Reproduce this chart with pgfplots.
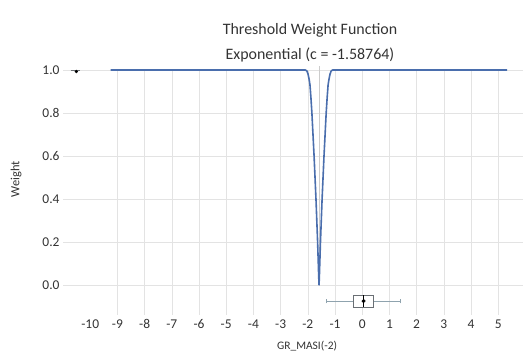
\documentclass[border=0pt]{standalone}
\usepackage{pgfplots}
\pgfplotsset{compat=1.18}
\usepgfplotslibrary{statistics}
\usepackage{fontspec}
\setmainfont{Carlito}
\definecolor{curve}{HTML}{4A6EAD}
\definecolor{gridc}{HTML}{E3E3E3}
\definecolor{txt}{HTML}{333333}
\definecolor{whisk}{HTML}{8FA3AE}
\definecolor{boxc}{HTML}{6A6F74}
\begin{document}
\begin{tikzpicture}[x=1bp,y=1bp]
\useasboundingbox (0,0) rectangle (523,354);
\node[txt, align=center, font=\fontsize{16}{25}\selectfont] at (310,311) {Threshold Weight Function\\Exponential (c = -1.58764)};
\begin{axis}[
  at={(63bp,39bp)}, anchor=south west,
  scale only axis, width=459.7bp, height=245bp,
  xmin=-11, xmax=5.9, ymin=-0.14, ymax=1.0,
  clip=false,
  axis line style={draw=none},
  tick style={draw=none},
  xtick={-9,...,5},
  xticklabels={-9,-8,-7,-6,-5,-4,-3,-2,-1,0,1,2,3,4,5},
  extra x ticks={-10},
  extra x tick labels={-10},
  extra x tick style={grid=none},
  ytick={0,0.2,0.4,0.6,0.8,1.0},
  yticklabels={0.0,0.2,0.4,0.6,0.8,1.0},
  xmajorgrids, ymajorgrids,
  grid style={gridc, line width=0.6bp},
  ticklabel style={txt, font=\fontsize{13.5}{16}\selectfont},
  xticklabel style={yshift=-1bp},
  xlabel={GR\_MASI(-2)},
  label style={txt, font=\fontsize{11.5}{14}\selectfont},
  xlabel style={at={(rel axis cs:0.531,0)}, anchor=center, yshift=-31bp},
  /pgf/number format/assume math mode=true,
]
% threshold line
\addplot[gray!40, line width=0.8bp] coordinates {(-1.587,0.0) (-1.587,1.02)};
% weight curve
\addplot[curve, line width=1.6bp, line join=round] coordinates {
(-9.25,1) (-2.09,1) (-2.03,0.995) (-1.99,0.98) (-1.95,0.955) (-1.92,0.93) (-1.885,0.87) (-1.85,0.8) (-1.81,0.7) (-1.77,0.6) (-1.735,0.5) (-1.70,0.4) (-1.67,0.3) (-1.64,0.2) (-1.615,0.1) (-1.60,0.04) (-1.587,0.0) (-1.575,0.04) (-1.56,0.1) (-1.535,0.2) (-1.505,0.3) (-1.475,0.4) (-1.44,0.5) (-1.405,0.6) (-1.365,0.7) (-1.325,0.8) (-1.29,0.87) (-1.255,0.93) (-1.225,0.955) (-1.185,0.98) (-1.145,0.995) (-1.09,1) (5.33,1)
};
% top-left marker
\addplot[boxc, line width=0.9bp] coordinates {(-10.72,1.0) (-10.37,1.0)};
\addplot[only marks, mark=*, mark size=1.5bp, black] coordinates {(-10.51,0.993)};
% boxplot
\addplot[boxc, line width=0.8bp,
  boxplot prepared={lower whisker=-1.32, lower quartile=-0.33, median=0.04,
    upper quartile=0.40, upper whisker=1.40, draw direction=x,
    draw position=-0.075, box extend=0.055, whisker extend=0.022,
    every box/.style={draw=boxc, fill=white, line width=0.8bp},
    every whisker/.style={draw=whisk, line width=1bp},
    every median/.style={draw=black, line width=0.9bp}}]
  coordinates {};
\addplot[only marks, mark=*, mark size=1.8bp, black] coordinates {(0.05,-0.075)};
\node[txt, rotate=90, font=\fontsize{12.5}{15}\selectfont] at (rel axis cs:-0.102,0.555) {Weight};
\end{axis}
\end{tikzpicture}
\end{document}
